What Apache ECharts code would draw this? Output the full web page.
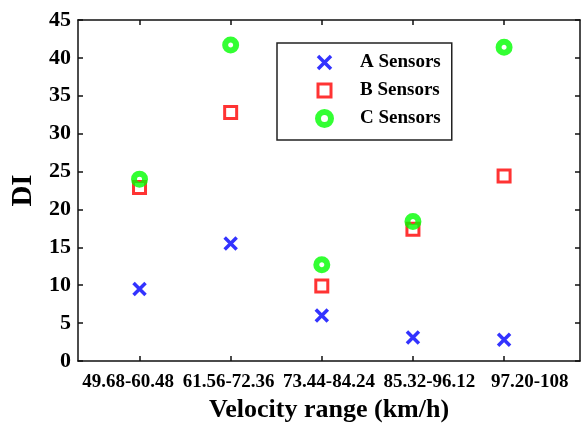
<!DOCTYPE html>
<html><head><meta charset="utf-8">
<script src="https://cdn.jsdelivr.net/npm/echarts@6/dist/echarts.min.js"></script>
<style>html,body{margin:0;padding:0;background:#fff}#c{width:581px;height:431px}</style>
</head><body><div id="c"></div>
<script>
const categories = ['49.68-60.48','61.56-72.36','73.44-84.24','85.32-96.12','97.20-108'];
const positions = [1,2,3,4,5];
const sensorsA = [9.5, 15.5, 6.0, 3.1, 2.8];
const sensorsB = [22.9, 32.8, 9.9, 17.4, 24.4];
const sensorsC = [24.0, 41.7, 12.7, 18.4, 41.4];
const yTicks = [0,5,10,15,20,25,30,35,40,45];

const FONT = 'Liberation Serif';
const xPath = 'path://M0,0L10,10M10,0L0,10';
const sqPath = 'path://M0,0L10,0L10,10L0,10Z';
const pair = arr => arr.map((v,i)=>[positions[i], v]);

const axisLine = {show:true, lineStyle:{color:'#111', width:1.5}};
const tick = {show:true, inside:true, length:5, lineStyle:{color:'#111', width:1.5}};

const styleA = {color:'rgba(0,0,0,0)', borderColor:'#0000ff', borderWidth:3.5};
const styleB = {color:'rgba(0,0,0,0)', borderColor:'#ff0000', borderWidth:3};
const styleC = {color:'rgba(0,0,0,0)', borderColor:'#00ff00', borderWidth:6};

const chart = echarts.init(document.getElementById('c'), null, {renderer:'canvas'});
chart.setOption({
  animation:false,
  backgroundColor:'#fff',
  grid:{left:78, right:1, top:20, bottom:70, containLabel:false, outerBoundsMode:'none'},
  xAxis:[
    {type:'value', position:'bottom', min:0.325, max:5.833,
     axisLine:axisLine, axisTick:Object.assign({customValues:positions}, tick),
     axisLabel:{show:false, customValues:positions}, splitLine:{show:false}},
    {type:'category', position:'bottom', data:categories, boundaryGap:true,
     axisLine:{show:false}, axisTick:{show:false},
     axisLabel:{show:true, interval:0, margin:12, fontFamily:FONT, fontWeight:'bold', fontSize:19, color:'#000'},
     name:'Velocity range (km/h)', nameLocation:'middle', nameGap:30,
     nameTextStyle:{fontFamily:FONT, fontWeight:'bold', fontSize:26, color:'#000'}},
    {type:'value', position:'top', min:0.325, max:5.833,
     axisLine:axisLine, axisTick:Object.assign({customValues:positions}, tick),
     axisLabel:{show:false, customValues:positions}, splitLine:{show:false}}
  ],
  yAxis:[
    {type:'value', position:'left', min:yTicks[0], max:yTicks[yTicks.length-1], interval:5,
     axisLine:axisLine, axisTick:tick, splitLine:{show:false},
     axisLabel:{margin:7, fontFamily:FONT, fontWeight:'bold', fontSize:22, color:'#000'},
     name:'DI', nameLocation:'middle', nameGap:39, nameRotate:90,
     nameTextStyle:{fontFamily:FONT, fontWeight:'bold', fontSize:29, color:'#000'}},
    {type:'value', position:'right', min:yTicks[0], max:yTicks[yTicks.length-1], interval:5,
     axisLine:axisLine, axisTick:tick, splitLine:{show:false}, axisLabel:{show:false}}
  ],
  legend:{
    orient:'vertical', left:277, top:43,
    padding:[10,11,12,38], itemGap:9, itemWidth:13, itemHeight:13, symbolKeepAspect:true,
    borderColor:'#222', borderWidth:1.5, backgroundColor:'#fff',
    formatter: name => '{t|' + name + '}',
    textStyle:{fontFamily:FONT, fontWeight:'bold', fontSize:19, color:'#000',
      rich:{t:{fontFamily:FONT, fontWeight:'bold', fontSize:19, color:'#000', padding:[0,0,0,24]}}},
    data:[
      {name:'A Sensors', icon:xPath, itemStyle:styleA},
      {name:'B Sensors', icon:sqPath, itemStyle:styleB},
      {name:'C Sensors', icon:'circle', itemStyle:styleC}
    ]
  },
  series:[
    {name:'A Sensors', type:'scatter', xAxisIndex:0, yAxisIndex:0, symbol:xPath, symbolSize:12,
     itemStyle:styleA, data:pair(sensorsA)},
    {name:'B Sensors', type:'scatter', xAxisIndex:0, yAxisIndex:0, symbol:sqPath, symbolSize:12,
     itemStyle:styleB, data:pair(sensorsB)},
    {name:'C Sensors', type:'scatter', xAxisIndex:0, yAxisIndex:0, symbol:'circle', symbolSize:11,
     itemStyle:styleC, data:pair(sensorsC)}
  ]
});
</script></body></html>
